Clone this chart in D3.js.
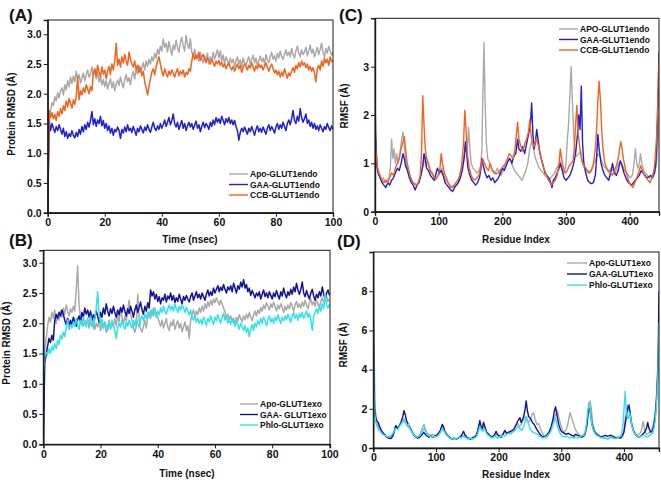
<!DOCTYPE html>
<html><head><meta charset="utf-8">
<script src="https://cdn.jsdelivr.net/npm/d3@7"></script>
<style>body{margin:0;background:#fff}svg{display:block}</style>
</head><body><svg id="c" width="661" height="484"></svg>
<script>
// ---------- DATA ----------
const timeStepNs = 0.5;
const rmsdTicksY = [0, 0.5, 1.0, 1.5, 2.0, 2.5, 3.0];
const timeTicks = [0, 20, 40, 60, 80, 100];
const residueTicks = [0, 100, 200, 300, 400];
const rmsfEndoTicksY = [0, 1, 2, 3];
const rmsfExoTicksY = [0, 2, 4, 6, 8];

const legendA = ["Apo-GLUT1endo", "GAA-GLUT1endo", "CCB-GLUT1endo"];
const legendB = ["Apo-GLUT1exo", "GAA- GLUT1exo", "Phlo-GLUT1exo"];
const legendC = ["APO-GLUT1endo", "GAA-GLUT1endo", "CCB-GLUT1endo"];
const legendD = ["Apo-GLUT1exo", "GAA-GLUT1exo", "Phlo-GLUT1exo"];

// Panel A: RMSD endo (every 0.5 ns)
const apoEndoRmsd = [
0.00,1.45,1.72,1.85,1.80,1.95,1.88,2.02,1.93,2.05,
2.10,1.98,2.15,2.06,2.22,2.12,2.28,2.17,2.30,2.20,
2.38,2.25,2.32,2.18,2.26,2.35,2.22,2.31,2.40,2.28,
2.33,2.45,2.30,2.38,2.25,2.36,2.20,2.28,2.15,2.24,
2.12,2.22,2.08,2.18,2.25,2.10,2.20,2.05,2.16,2.23,
2.14,2.28,2.18,2.10,2.24,2.32,2.20,2.27,2.15,2.30,
2.38,2.25,2.42,2.33,2.48,2.36,2.45,2.52,2.40,2.55,
2.46,2.58,2.50,2.62,2.55,2.68,2.60,2.75,2.66,2.80,
2.72,2.92,2.78,2.85,2.70,2.88,2.76,2.65,2.82,2.74,
2.90,2.78,2.70,2.86,2.95,2.80,2.72,2.98,2.84,2.76,
2.92,2.70,2.62,2.75,2.58,2.66,2.55,2.70,2.60,2.52,
2.64,2.56,2.68,2.50,2.62,2.55,2.70,2.58,2.66,2.74,
2.60,2.72,2.55,2.65,2.50,2.62,2.56,2.48,2.60,2.52,
2.58,2.46,2.55,2.62,2.50,2.57,2.45,2.60,2.52,2.48,
2.56,2.62,2.50,2.58,2.65,2.52,2.60,2.48,2.56,2.63,
2.54,2.60,2.50,2.66,2.57,2.52,2.62,2.70,2.58,2.64,
2.55,2.68,2.60,2.72,2.62,2.58,2.66,2.74,2.64,2.70,
2.62,2.76,2.66,2.60,2.72,2.80,2.68,2.62,2.74,2.66,
2.70,2.78,2.64,2.72,2.82,2.68,2.75,2.62,2.70,2.78,
2.66,2.74,2.85,2.70,2.62,2.76,2.68,2.80,2.72,2.65,
2.70];
const gaaEndoRmsd = [
0.00,1.55,1.38,1.50,1.42,1.35,1.45,1.38,1.48,1.40,
1.32,1.42,1.28,1.36,1.25,1.33,1.28,1.38,1.30,1.26,
1.35,1.28,1.40,1.32,1.45,1.36,1.48,1.40,1.52,1.44,
1.55,1.70,1.48,1.58,1.45,1.56,1.50,1.62,1.46,1.55,
1.42,1.50,1.38,1.46,1.34,1.42,1.30,1.40,1.36,1.44,
1.38,1.25,1.40,1.34,1.44,1.36,1.48,1.38,1.42,1.35,
1.45,1.38,1.30,1.42,1.36,1.46,1.40,1.34,1.44,1.38,
1.48,1.40,1.35,1.44,1.52,1.42,1.38,1.46,1.40,1.50,
1.42,1.48,1.56,1.45,1.52,1.60,1.48,1.55,1.66,1.50,
1.44,1.52,1.40,1.48,1.55,1.42,1.50,1.38,1.46,1.52,
1.44,1.50,1.40,1.47,1.54,1.42,1.48,1.36,1.45,1.52,
1.43,1.50,1.46,1.40,1.52,1.45,1.56,1.48,1.60,1.52,
1.58,1.50,1.62,1.55,1.48,1.58,1.52,1.60,1.50,1.56,
1.48,1.55,1.45,1.38,1.22,1.35,1.42,1.36,1.44,1.38,
1.32,1.42,1.36,1.45,1.38,1.30,1.40,1.46,1.36,1.42,
1.35,1.44,1.38,1.32,1.42,1.48,1.38,1.45,1.40,1.34,
1.44,1.50,1.40,1.48,1.42,1.52,1.45,1.38,1.50,1.56,
1.48,1.58,1.72,1.55,1.50,1.62,1.54,1.75,1.60,1.52,
1.58,1.66,1.50,1.56,1.45,1.52,1.42,1.50,1.40,1.46,
1.38,1.48,1.42,1.36,1.45,1.40,1.50,1.43,1.38,1.46,
1.40];
const ccbEndoRmsd = [
0.00,1.72,1.60,1.68,1.58,1.65,1.55,1.70,1.62,1.75,
1.66,1.80,1.72,1.88,1.78,1.92,1.84,1.76,1.90,1.82,
1.95,2.28,1.90,2.05,1.98,2.10,2.02,2.15,2.08,2.00,
2.12,2.05,2.35,2.42,2.30,2.48,2.36,2.28,2.45,2.33,
2.40,2.25,2.38,2.46,2.32,2.50,2.40,2.55,2.85,2.48,
2.58,2.45,2.62,2.52,2.66,2.55,2.48,2.70,2.58,2.50,
2.45,2.55,2.40,2.48,2.36,2.44,2.30,2.38,2.20,2.10,
1.98,2.12,2.25,2.36,2.42,2.32,2.45,2.55,2.62,2.50,
2.38,2.30,2.42,2.34,2.28,2.38,2.32,2.40,2.35,2.28,
2.36,2.42,2.30,2.38,2.33,2.40,2.28,2.36,2.32,2.42,
2.38,2.55,2.68,2.58,2.65,2.60,2.70,2.56,2.62,2.66,
2.58,2.52,2.60,2.55,2.50,2.58,2.52,2.46,2.55,2.50,
2.56,2.48,2.53,2.45,2.50,2.42,2.48,2.52,2.44,2.40,
2.46,2.38,2.45,2.50,2.42,2.48,2.36,2.44,2.50,2.46,
2.40,2.48,2.43,2.52,2.45,2.38,2.47,2.42,2.50,2.44,
2.48,2.40,2.46,2.52,2.44,2.38,2.45,2.50,2.42,2.35,
2.40,2.32,2.38,2.28,2.36,2.30,2.42,2.34,2.26,2.35,
2.30,2.38,2.44,2.36,2.48,2.42,2.52,2.45,2.55,2.48,
2.52,2.44,2.50,2.40,2.46,2.38,2.44,2.35,2.20,2.42,
2.48,2.40,2.55,2.46,2.60,2.52,2.58,2.48,2.62,2.54,
2.56];

// Panel B: RMSD exo (every 0.5 ns)
const apoExoRmsd = [
0.00,1.55,1.75,1.95,2.10,2.02,2.18,2.08,2.22,2.00,
2.12,2.05,2.20,2.10,2.25,2.15,2.30,2.20,2.12,2.24,
2.18,2.28,2.20,2.55,2.95,2.30,2.10,2.02,1.95,2.05,
1.98,2.08,1.92,2.02,1.95,2.06,1.90,2.00,1.94,2.04,
1.88,1.98,1.92,2.02,1.85,1.95,2.05,1.90,2.00,1.94,
2.08,1.96,2.15,2.02,2.25,2.10,1.98,2.12,2.04,2.20,
2.38,2.15,2.05,1.92,1.85,1.95,2.48,2.05,1.90,1.86,
1.95,2.05,1.92,2.10,2.18,2.08,2.22,2.12,2.25,2.15,
2.10,2.02,1.95,2.05,1.92,2.00,2.08,1.94,1.88,2.02,
1.96,2.06,1.90,1.98,2.04,1.92,2.00,1.86,1.94,2.02,
1.88,1.96,1.75,2.05,2.15,2.22,2.10,2.20,2.14,2.25,
2.18,2.28,2.20,2.32,2.24,2.35,2.28,2.38,2.30,2.40,
2.34,2.42,2.36,2.30,2.38,2.32,2.25,2.18,2.10,2.15,
2.05,2.12,2.02,2.08,1.98,2.10,2.04,2.14,2.08,2.02,
2.12,2.06,2.15,2.08,2.18,2.10,2.04,2.14,2.20,2.12,
2.22,2.16,2.26,2.20,2.30,2.24,2.34,2.28,2.22,2.32,
2.26,2.35,2.28,2.20,2.30,2.24,2.32,2.26,2.18,2.28,
2.22,2.30,2.24,2.34,2.28,2.20,2.30,2.36,2.26,2.32,
2.25,2.35,2.28,2.38,2.30,2.24,2.34,2.40,2.30,2.36,
2.28,2.38,2.32,2.26,2.36,2.42,2.34,2.40,2.44,2.36,
2.40];
const gaaExoRmsd = [
0.00,1.35,1.48,1.62,1.75,1.68,1.80,1.72,2.05,2.15,
2.08,2.18,2.12,2.22,2.15,2.05,1.98,2.08,1.95,2.05,
1.98,2.10,2.02,1.95,2.06,2.12,2.02,2.18,2.10,2.25,
2.15,2.22,2.10,2.20,2.05,2.14,2.08,2.20,2.12,2.02,
2.18,2.10,2.25,2.15,2.32,2.20,2.12,2.24,2.16,2.28,
2.18,2.10,2.22,2.14,2.26,2.18,2.30,2.20,2.12,2.24,
2.16,2.28,2.20,2.10,2.22,2.30,2.18,2.26,2.35,2.22,
2.15,2.28,2.20,2.34,2.25,2.55,2.45,2.52,2.40,2.48,
2.36,2.44,2.32,2.42,2.38,2.48,2.35,2.45,2.40,2.50,
2.38,2.46,2.34,2.42,2.36,2.48,2.40,2.32,2.44,2.38,
2.46,2.40,2.35,2.44,2.50,2.38,2.45,2.52,2.42,2.48,
2.40,2.50,2.44,2.38,2.48,2.55,2.45,2.52,2.46,2.58,
2.50,2.56,2.62,2.52,2.60,2.54,2.64,2.56,2.50,2.60,
2.55,2.62,2.52,2.66,2.58,2.50,2.62,2.56,2.68,2.60,
2.72,2.58,2.64,2.52,2.58,2.46,2.54,2.48,2.42,2.50,
2.45,2.52,2.40,2.48,2.55,2.44,2.50,2.42,2.52,2.46,
2.40,2.50,2.44,2.54,2.46,2.40,2.52,2.45,2.58,2.48,
2.42,2.52,2.46,2.56,2.48,2.60,2.52,2.66,2.55,2.48,
2.56,2.68,2.50,2.44,2.54,2.46,2.40,2.50,2.56,2.45,
2.38,2.48,2.42,2.52,2.45,2.60,2.48,2.40,2.50,2.55,
2.46];
const phloExoRmsd = [
1.10,1.45,1.52,1.48,1.58,1.50,1.62,1.55,1.66,1.58,
1.72,1.65,1.80,1.74,1.85,1.78,1.92,2.05,1.90,1.98,
1.92,2.02,1.95,2.08,1.98,1.90,2.05,1.96,2.10,2.02,
1.94,2.06,1.98,2.12,2.02,1.92,2.05,2.25,2.52,2.15,
1.98,2.06,1.92,2.02,1.95,1.88,2.00,1.92,2.05,1.96,
1.88,1.75,1.92,2.00,1.94,2.05,1.96,1.90,2.02,1.95,
2.05,1.98,1.92,2.04,1.96,2.08,2.00,1.94,2.06,2.12,
2.04,2.15,2.08,2.18,2.10,2.22,2.14,2.25,2.18,2.10,
2.20,2.14,2.25,2.18,2.28,2.20,2.15,2.24,2.30,2.22,
2.28,2.20,2.32,2.24,2.18,2.28,2.22,2.30,2.25,2.18,
2.26,2.20,2.14,2.22,2.10,2.05,2.12,2.02,2.08,2.00,
2.06,1.98,2.10,2.04,1.96,2.08,2.02,2.12,2.05,1.98,
2.10,2.04,2.14,2.06,2.00,2.10,2.16,2.05,2.12,2.00,
2.06,1.98,2.08,2.02,1.95,2.04,1.98,1.90,2.00,1.94,
1.88,1.96,1.85,1.92,1.78,1.90,1.98,1.88,2.00,1.94,
2.04,1.98,2.08,2.00,2.10,2.04,1.96,2.06,2.12,2.02,
2.08,2.00,2.10,2.04,2.14,2.06,2.00,2.10,2.04,2.12,
2.06,2.15,2.08,2.02,2.12,2.18,2.08,2.14,2.05,2.16,
2.10,2.18,2.08,2.14,2.20,2.10,2.16,2.06,1.88,2.12,
2.18,2.24,2.16,2.28,2.20,2.32,2.24,2.48,2.30,2.25,
2.32];

// Panel C: RMSF endo, [residue, RMSF]
const apoEndoRmsf = [[0,1.5],[2,1.1],[4,0.85],[7,0.75],[10,0.65],[13,0.7],[16,0.6],[19,0.65],[22,0.7],[24,0.9],[26,1.5],[28,1.1],[30,1.3],[32,1.0],[34,1.2],[36,1.0],[38,1.1],[40,1.3],[42,1.5],[44,1.65],[46,1.4],[48,1.1],[50,0.95],[53,0.8],[56,0.7],[59,0.6],[62,0.58],[65,0.55],[68,0.6],[71,0.7],[74,0.85],[76,1.0],[78,1.1],[80,0.95],[82,1.05],[85,0.9],[88,0.8],[91,0.75],[94,0.65],[97,0.7],[100,0.75],[103,0.85],[105,0.9],[108,0.75],[111,0.65],[114,0.6],[118,0.55],[122,0.5],[126,0.55],[130,0.6],[133,0.7],[136,0.9],[139,1.1],[142,1.4],[144,1.2],[146,1.5],[147,1.75],[149,1.3],[151,1.0],[154,0.9],[157,0.85],[160,0.8],[163,0.85],[166,0.95],[168,1.3],[169,2.2],[170,2.7],[171,3.5],[172,2.9],[173,2.2],[175,1.4],[177,1.1],[180,1.0],[183,0.9],[186,0.85],[189,0.8],[192,0.9],[195,0.8],[198,0.75],[201,0.85],[204,0.95],[207,1.0],[210,1.1],[213,1.05],[216,0.95],[219,0.85],[222,0.8],[225,0.75],[228,0.7],[231,0.65],[234,0.75],[237,0.85],[240,1.0],[243,1.3],[246,1.45],[249,1.3],[252,1.1],[255,1.0],[258,0.9],[261,0.85],[264,0.8],[267,0.75],[270,0.7],[273,0.65],[276,0.7],[279,0.75],[282,0.8],[285,0.9],[288,0.95],[291,1.05],[294,0.9],[297,0.8],[300,1.0],[302,1.5],[304,1.8],[306,2.4],[308,3.0],[310,2.3],[312,1.6],[314,1.2],[317,1.15],[320,1.2],[323,1.25],[326,1.0],[329,0.9],[332,0.85],[335,0.8],[338,0.85],[341,0.9],[344,1.0],[347,1.1],[350,1.2],[353,1.15],[356,1.05],[359,0.95],[362,0.9],[365,0.85],[368,0.8],[371,0.9],[374,0.85],[377,0.8],[380,0.9],[383,1.0],[386,1.05],[389,0.95],[392,0.85],[395,0.8],[398,0.75],[401,0.7],[404,0.75],[406,0.9],[409,1.3],[411,1.0],[413,0.9],[415,1.0],[417,1.2],[419,1.0],[422,0.85],[425,0.8],[428,0.75],[431,0.7],[434,0.72],[437,0.75],[440,0.85],[442,1.0],[444,1.4],[446,2.0]];
const gaaEndoRmsf = [[0,2.5],[1,1.6],[3,0.95],[5,0.8],[8,0.7],[11,0.6],[14,0.55],[17,0.5],[20,0.6],[23,0.55],[26,0.65],[29,0.7],[32,0.8],[35,0.9],[38,0.85],[41,1.0],[44,1.2],[46,1.1],[48,0.95],[51,0.85],[54,0.7],[57,0.6],[60,0.55],[63,0.45],[66,0.55],[69,0.6],[72,0.75],[75,0.95],[77,1.2],[79,1.1],[81,0.9],[84,0.85],[87,0.75],[90,0.7],[93,0.65],[96,0.8],[98,0.9],[101,0.8],[104,0.85],[107,0.75],[110,0.6],[113,0.55],[116,0.5],[119,0.45],[122,0.42],[125,0.5],[128,0.55],[131,0.6],[134,0.7],[137,0.85],[140,1.1],[142,1.45],[144,1.2],[146,0.9],[149,0.75],[152,0.65],[155,0.6],[158,0.55],[161,0.6],[164,0.7],[166,0.85],[168,1.1],[170,0.95],[173,0.8],[176,0.7],[179,0.75],[182,0.65],[185,0.7],[188,0.6],[191,0.65],[194,0.7],[197,0.8],[200,0.9],[203,0.85],[206,0.95],[209,1.05],[212,1.1],[215,1.0],[218,1.15],[221,1.2],[224,1.5],[226,1.3],[229,1.25],[232,1.35],[235,1.2],[238,1.4],[241,1.6],[244,1.8],[246,2.25],[248,1.6],[250,1.3],[252,1.45],[254,1.7],[256,1.5],[258,1.3],[261,1.1],[264,0.95],[267,0.8],[270,0.75],[273,0.7],[276,0.6],[278,0.5],[280,0.65],[283,0.7],[286,0.8],[289,0.9],[291,1.0],[294,0.85],[297,0.7],[300,0.65],[303,0.7],[306,0.75],[309,0.85],[312,1.0],[315,1.2],[318,1.6],[320,2.0],[322,1.7],[324,2.6],[326,1.4],[328,1.0],[331,0.8],[334,0.65],[337,0.6],[340,0.58],[343,0.6],[346,0.75],[348,1.1],[350,1.6],[352,1.3],[355,1.0],[358,0.85],[361,0.75],[364,0.7],[367,0.65],[370,0.8],[373,1.0],[376,0.8],[379,0.75],[382,0.85],[385,1.05],[388,0.95],[391,0.8],[394,0.7],[397,0.62],[400,0.58],[403,0.55],[406,0.6],[409,0.65],[412,0.7],[415,0.75],[418,0.85],[421,0.8],[424,0.75],[427,0.7],[430,0.72],[433,0.75],[436,0.7],[439,0.8],[441,1.0],[443,1.6],[445,2.6],[446,3.3]];
const ccbEndoRmsf = [[0,2.0],[1,1.4],[3,1.0],[5,0.85],[8,0.75],[11,0.65],[14,0.6],[17,0.65],[20,0.6],[23,0.7],[26,0.8],[29,0.75],[32,0.9],[35,1.0],[38,1.1],[41,1.3],[44,1.45],[46,1.55],[48,1.3],[50,1.05],[53,0.85],[56,0.7],[59,0.62],[62,0.58],[65,0.55],[68,0.6],[71,0.75],[73,1.2],[75,2.4],[77,1.8],[79,1.3],[81,1.1],[84,1.0],[87,0.85],[90,0.8],[93,0.7],[96,0.68],[99,0.75],[102,0.9],[104,1.2],[106,1.0],[109,0.8],[112,0.7],[115,0.6],[118,0.52],[121,0.5],[124,0.55],[127,0.6],[130,0.65],[133,0.75],[136,0.95],[139,1.4],[141,2.1],[143,1.7],[145,1.2],[148,0.9],[151,0.75],[154,0.68],[157,0.65],[160,0.7],[163,0.75],[166,0.9],[169,1.1],[172,1.0],[175,0.9],[178,0.85],[181,1.0],[184,0.85],[187,0.8],[190,0.78],[193,0.8],[196,0.85],[199,0.9],[202,0.95],[205,1.0],[208,1.1],[211,1.2],[214,1.15],[217,1.1],[220,1.3],[222,1.6],[224,1.85],[226,1.5],[229,1.35],[232,1.25],[235,1.4],[238,1.5],[241,1.65],[243,1.9],[245,1.6],[247,1.45],[250,1.35],[253,1.5],[256,1.4],[259,1.2],[262,1.05],[265,0.9],[268,0.8],[271,0.7],[274,0.62],[277,0.55],[280,0.6],[283,0.65],[286,0.75],[289,1.0],[291,1.3],[293,1.1],[296,0.9],[299,0.8],[302,0.85],[305,0.95],[308,1.0],[311,1.05],[313,1.3],[315,1.8],[317,2.2],[319,1.6],[321,1.4],[323,1.2],[325,1.05],[328,0.95],[331,0.9],[334,0.85],[337,0.8],[340,0.85],[343,1.0],[346,1.3],[348,1.7],[350,2.3],[352,2.7],[354,2.3],[356,1.7],[358,1.3],[361,1.0],[364,0.9],[367,0.85],[370,0.8],[373,0.75],[376,0.85],[379,0.95],[382,1.1],[384,1.3],[386,1.45],[388,1.3],[390,1.1],[393,0.9],[396,0.75],[399,0.6],[402,0.55],[405,0.5],[408,0.6],[411,0.7],[414,0.8],[417,0.95],[420,0.85],[423,0.75],[426,0.7],[429,0.65],[432,0.6],[435,0.7],[438,0.85],[440,1.1],[442,1.5],[444,2.2],[446,3.2]];

// Panel D: RMSF exo, [residue, RMSF]
const apoExoRmsf = [[0,9.3],[1,6.5],[2,3.5],[3,2.0],[5,1.5],[7,1.2],[9,1.0],[12,0.9],[15,0.75],[18,0.7],[21,0.6],[24,0.5],[27,0.55],[30,0.6],[33,0.8],[35,1.1],[37,1.0],[40,1.1],[43,1.2],[46,1.4],[49,1.5],[52,1.3],[55,1.15],[58,1.0],[61,0.9],[64,0.75],[67,0.6],[70,0.55],[73,0.6],[76,0.8],[79,1.1],[81,1.2],[83,0.95],[86,0.75],[89,0.7],[92,0.65],[95,0.7],[98,0.65],[101,0.6],[104,0.65],[107,0.8],[110,1.1],[112,1.0],[115,0.8],[118,0.65],[121,0.55],[124,0.5],[127,0.45],[130,0.5],[133,0.45],[136,0.5],[139,0.55],[142,0.6],[145,0.65],[148,0.55],[151,0.5],[154,0.45],[157,0.5],[160,0.55],[163,0.6],[166,0.8],[169,1.2],[171,1.0],[174,0.9],[176,1.15],[179,0.9],[182,0.75],[185,0.65],[188,0.6],[191,0.55],[194,0.6],[197,0.7],[200,0.6],[203,0.65],[206,0.7],[209,0.8],[212,0.75],[215,0.8],[218,0.85],[221,0.8],[224,0.9],[227,1.1],[230,1.25],[233,1.1],[236,1.2],[239,1.4],[242,1.6],[245,1.4],[248,1.3],[251,1.5],[254,1.75],[256,1.8],[258,1.5],[261,1.2],[264,1.25],[267,0.95],[270,0.75],[273,0.6],[276,0.55],[279,0.65],[282,0.8],[285,1.1],[288,1.4],[291,1.7],[294,1.9],[296,1.6],[299,1.2],[302,0.9],[305,0.8],[308,0.95],[311,1.3],[314,1.8],[316,1.6],[319,1.3],[322,1.0],[325,0.8],[328,0.7],[331,0.6],[334,0.55],[337,0.6],[340,0.9],[342,1.5],[344,2.2],[346,2.4],[348,2.0],[350,1.3],[353,0.9],[356,0.75],[359,0.7],[362,0.6],[365,0.55],[368,0.5],[371,0.5],[374,0.45],[377,0.5],[380,0.55],[383,0.5],[386,0.5],[389,0.55],[392,0.5],[395,0.55],[398,0.6],[400,0.9],[402,1.5],[404,1.9],[406,2.2],[408,2.0],[410,1.6],[412,1.2],[415,0.9],[418,0.75],[421,0.65],[424,0.7],[427,0.8],[429,1.1],[431,1.35],[433,0.9],[436,0.7],[439,0.75],[442,0.85],[445,1.0],[447,1.2],[449,1.6],[451,2.2],[453,3.0],[455,4.5],[456,5.9]];
const gaaExoRmsf = [[0,5.7],[1,3.5],[2,2.0],[4,1.5],[6,1.35],[8,1.3],[10,1.1],[13,0.9],[16,0.75],[19,0.65],[22,0.55],[25,0.5],[28,0.48],[31,0.6],[34,0.9],[36,1.15],[38,1.0],[41,1.1],[44,1.3],[47,1.6],[49,1.9],[51,1.7],[53,1.4],[56,1.2],[59,1.0],[62,0.8],[65,0.65],[68,0.55],[71,0.5],[74,0.55],[77,0.65],[80,0.8],[83,0.7],[86,0.6],[89,0.55],[92,0.6],[95,0.55],[98,0.6],[101,0.65],[104,0.75],[107,0.9],[110,1.2],[112,1.1],[114,0.85],[117,0.7],[120,0.6],[123,0.5],[126,0.45],[129,0.5],[132,0.45],[135,0.5],[138,0.55],[141,0.65],[144,0.85],[146,0.7],[149,0.55],[152,0.5],[155,0.45],[158,0.5],[161,0.55],[164,0.6],[167,0.9],[170,1.4],[172,1.1],[174,1.0],[176,1.3],[178,1.1],[181,0.8],[184,0.7],[187,0.6],[190,0.55],[193,0.65],[196,0.85],[198,0.7],[201,0.6],[204,0.55],[207,0.7],[210,0.9],[213,0.75],[216,0.8],[219,0.85],[222,0.9],[225,1.0],[228,1.2],[231,1.4],[234,1.55],[236,1.3],[239,1.5],[242,1.9],[244,2.4],[246,1.9],[248,1.6],[251,1.5],[254,1.3],[257,1.2],[260,1.0],[263,0.85],[266,0.7],[269,0.6],[272,0.55],[275,0.6],[278,0.7],[281,0.85],[284,1.1],[287,1.5],[289,1.9],[291,2.1],[293,1.7],[296,1.2],[299,0.9],[302,0.8],[305,0.75],[308,0.7],[311,0.75],[314,0.7],[317,0.65],[320,0.6],[323,0.7],[326,0.65],[329,0.6],[332,0.55],[335,0.6],[338,0.75],[341,1.2],[343,1.8],[345,2.1],[347,1.7],[349,1.2],[352,0.9],[355,0.75],[358,0.65],[361,0.6],[364,0.55],[367,0.6],[370,0.65],[373,0.6],[376,0.62],[379,0.65],[382,0.6],[385,0.55],[388,0.5],[391,0.55],[394,0.5],[397,0.6],[400,0.8],[402,1.2],[404,1.6],[406,2.0],[408,2.2],[410,1.8],[412,1.3],[415,0.9],[418,0.7],[421,0.6],[424,0.55],[427,0.6],[430,0.7],[433,0.8],[436,1.0],[438,1.3],[440,1.0],[443,0.8],[446,0.9],[448,1.2],[450,1.6],[452,2.5],[454,4.0],[455,5.5],[456,8.0]];
const phloExoRmsf = [[0,4.8],[1,3.0],[2,1.8],[4,1.3],[6,1.1],[9,0.9],[12,0.8],[15,0.7],[18,0.65],[21,0.6],[24,0.55],[27,0.6],[30,0.7],[33,0.85],[36,1.0],[39,0.95],[42,1.1],[45,1.25],[48,1.4],[51,1.3],[54,1.1],[56,1.2],[58,1.0],[61,0.85],[64,0.7],[67,0.6],[70,0.55],[73,0.6],[76,0.7],[79,0.9],[81,1.0],[84,0.8],[87,0.65],[90,0.6],[93,0.55],[96,0.6],[99,0.55],[102,0.6],[105,0.7],[108,0.85],[110,1.0],[113,0.85],[116,0.7],[119,0.6],[122,0.5],[125,0.45],[128,0.5],[131,0.45],[134,0.5],[137,0.55],[140,0.5],[143,0.6],[146,0.55],[149,0.5],[152,0.45],[155,0.5],[158,0.45],[161,0.5],[164,0.55],[167,0.75],[170,1.1],[172,0.95],[175,0.85],[177,1.0],[180,0.8],[183,0.65],[186,0.6],[189,0.5],[192,0.55],[195,0.6],[198,0.5],[201,0.55],[204,0.6],[207,0.65],[210,0.6],[213,0.7],[216,0.75],[219,0.7],[222,0.8],[225,0.85],[228,0.95],[231,1.1],[234,1.0],[237,0.9],[240,1.1],[243,1.4],[245,1.6],[247,1.3],[250,1.0],[253,0.85],[256,0.8],[259,0.75],[262,0.7],[265,0.6],[268,0.55],[271,0.5],[274,0.55],[277,0.6],[280,0.7],[283,0.8],[286,1.1],[289,1.4],[291,1.5],[293,1.2],[296,0.9],[299,0.7],[302,0.6],[305,0.55],[308,0.6],[311,0.55],[314,0.5],[317,0.55],[320,0.5],[323,0.55],[326,0.5],[329,0.55],[332,0.6],[335,0.65],[338,0.8],[340,1.2],[342,1.8],[344,2.3],[346,2.0],[348,1.4],[350,1.0],[353,0.8],[356,0.65],[359,0.6],[362,0.55],[365,0.5],[368,0.55],[371,0.5],[374,0.48],[377,0.5],[380,0.55],[383,0.5],[386,0.48],[389,0.52],[392,0.55],[395,0.6],[397,0.8],[399,1.4],[401,2.4],[402,2.9],[403,2.2],[405,1.6],[407,1.5],[409,1.8],[411,1.5],[413,1.1],[416,0.8],[419,0.65],[422,0.6],[425,0.55],[428,0.6],[431,0.65],[434,0.6],[437,0.55],[440,0.6],[443,0.7],[446,0.75],[448,1.0],[450,1.4],[452,2.2],[454,3.5],[455,4.8],[456,6.4]];

// ---------- DRAWING ----------
const svg = d3.select("#c");
svg.append("rect").attr("width",661).attr("height",484).attr("fill","#fff");
const FONT = "'Liberation Sans', Arial, sans-serif";
const C = {gray:"#a9a9a9", blue:"#1f1fd8", orange:"#f4621c", navy:"#12129e", cyan:"#2ee3ea"};

function toPairs(vals){ return vals.map((v,i)=>[i*timeStepNs, v]); }

let clipId = 0;
function panel(o){
  const x = d3.scaleLinear().domain(o.xDomain).range([o.x0,o.x1]);
  const y = d3.scaleLinear().domain(o.yDomain).range([o.y0,o.y1]);
  const g = svg.append("g");
  const id = "clip"+(clipId++);
  g.append("clipPath").attr("id",id).append("rect")
    .attr("x",o.x0).attr("y",o.y1).attr("width",o.x1-o.x0).attr("height",o.y0-o.y1);
  const line = d3.line().x(d=>x(d[0])).y(d=>y(d[1]));
  const lg = g.append("g").attr("clip-path",`url(#${id})`);
  o.series.forEach(s=>{
    lg.append("path").datum(s.data).attr("d",line).attr("fill","none")
      .attr("stroke",s.color).attr("stroke-width",o.lw).attr("stroke-linejoin","round");
  });
  g.append("rect").attr("x",o.x0).attr("y",o.y1).attr("width",o.x1-o.x0).attr("height",o.y0-o.y1)
    .attr("fill","none").attr("stroke","#1a1a1a").attr("stroke-width",1);
  const xa = g.append("g").attr("transform",`translate(0,${o.y0})`)
    .call(d3.axisBottom(x).tickValues(o.xTicks).tickSize(4).tickPadding(2).tickFormat(d3.format("d")));
  const ya = g.append("g").attr("transform",`translate(${o.x0},0)`)
    .call(d3.axisLeft(y).tickValues(o.yTicks).tickSize(4).tickPadding(2).tickFormat(o.yFmt));
  [xa,ya].forEach(a=>{
    a.selectAll("text").attr("font-family",FONT).attr("font-weight","bold").attr("font-size","10.5px").attr("fill","#111");
    a.selectAll("line").attr("stroke","#1a1a1a");
    a.select(".domain").attr("stroke","#1a1a1a").attr("stroke-width",1.4);
  });
  g.append("text").attr("x",o.xt[0]).attr("y",o.xt[1]).attr("text-anchor","middle")
    .attr("font-family",FONT).attr("font-weight","bold").attr("font-size","10px").attr("fill","#111").text(o.xTitle);
  g.append("text").attr("transform",`translate(${o.yt[0]},${o.yt[1]}) rotate(-90)`).attr("text-anchor","middle")
    .attr("font-family",FONT).attr("font-weight","bold").attr("font-size","10px").attr("fill","#111").text(o.yTitle);
  g.append("text").attr("x",o.lab[0]).attr("y",o.lab[1]).attr("font-family",FONT)
    .attr("font-weight","bold").attr("font-size","17px").attr("fill","#111").text(o.label);
  o.legend.forEach((t,i)=>{
    const ly = o.leg.y + i*o.leg.dy;
    g.append("line").attr("x1",o.leg.x1).attr("x2",o.leg.x2).attr("y1",ly).attr("y2",ly)
      .attr("stroke",o.legColors[i]).attr("stroke-width",1.4);
    g.append("text").attr("x",o.leg.x2+2).attr("y",ly+3).attr("font-family",FONT).attr("font-weight","bold")
      .attr("font-size","8.5px").attr("fill","#111").text(t);
  });
}

panel({label:"(A)", lab:[9,21], x0:47.7, x1:333, y0:212.7, y1:20, xDomain:[0,100], yDomain:[0,3.24], lw:1.5,
  xTicks:timeTicks, yTicks:rmsdTicksY, yFmt:d3.format(".1f"),
  xTitle:"Time (nsec)", xt:[190,243], yTitle:"Protein RMSD (Å)", yt:[15,114],
  series:[{data:toPairs(apoEndoRmsd),color:C.gray},{data:toPairs(gaaEndoRmsd),color:C.blue},{data:toPairs(ccbEndoRmsd),color:C.orange}],
  legend:legendA, legColors:[C.gray,C.blue,C.orange], leg:{x1:229,x2:248,y:174,dy:10.5}});

panel({label:"(C)", lab:[339,21], x0:375, x1:659, y0:211.7, y1:18.3, xDomain:[0,446], yDomain:[0,4], lw:1.4,
  xTicks:residueTicks, yTicks:rmsfEndoTicksY, yFmt:d3.format("d"),
  xTitle:"Residue Index", xt:[516,243], yTitle:"RMSF (Å)", yt:[348,106],
  series:[{data:apoEndoRmsf,color:C.gray},{data:gaaEndoRmsf,color:C.blue},{data:ccbEndoRmsf,color:C.orange}],
  legend:legendC, legColors:[C.gray,C.blue,C.orange], leg:{x1:559,x2:578,y:29,dy:10.5}});

panel({label:"(B)", lab:[9,246], x0:43.3, x1:330, y0:444.3, y1:250.3, xDomain:[0,100.2], yDomain:[0,3.205], lw:1.5,
  xTicks:timeTicks, yTicks:rmsdTicksY, yFmt:d3.format(".1f"),
  xTitle:"Time (nsec)", xt:[187,477], yTitle:"Protein RMSD (Å)", yt:[10,343],
  series:[{data:toPairs(apoExoRmsd),color:C.gray},{data:toPairs(gaaExoRmsd),color:C.navy},{data:toPairs(phloExoRmsd),color:C.cyan}],
  legend:legendB, legColors:[C.gray,C.navy,C.cyan], leg:{x1:240,x2:258,y:404,dy:10.5}});

panel({label:"(D)", lab:[337,247], x0:373.3, x1:659, y0:448, y1:252, xDomain:[0,456], yDomain:[0,10], lw:1.4,
  xTicks:residueTicks, yTicks:rmsfExoTicksY, yFmt:d3.format("d"),
  xTitle:"Residue Index", xt:[516,478], yTitle:"RMSF (Å)", yt:[347,345],
  series:[{data:apoExoRmsf,color:C.gray},{data:gaaExoRmsf,color:C.navy},{data:phloExoRmsf,color:C.cyan}],
  legend:legendD, legColors:[C.gray,C.navy,C.cyan], leg:{x1:567,x2:587,y:263,dy:11}});
</script></body></html>
